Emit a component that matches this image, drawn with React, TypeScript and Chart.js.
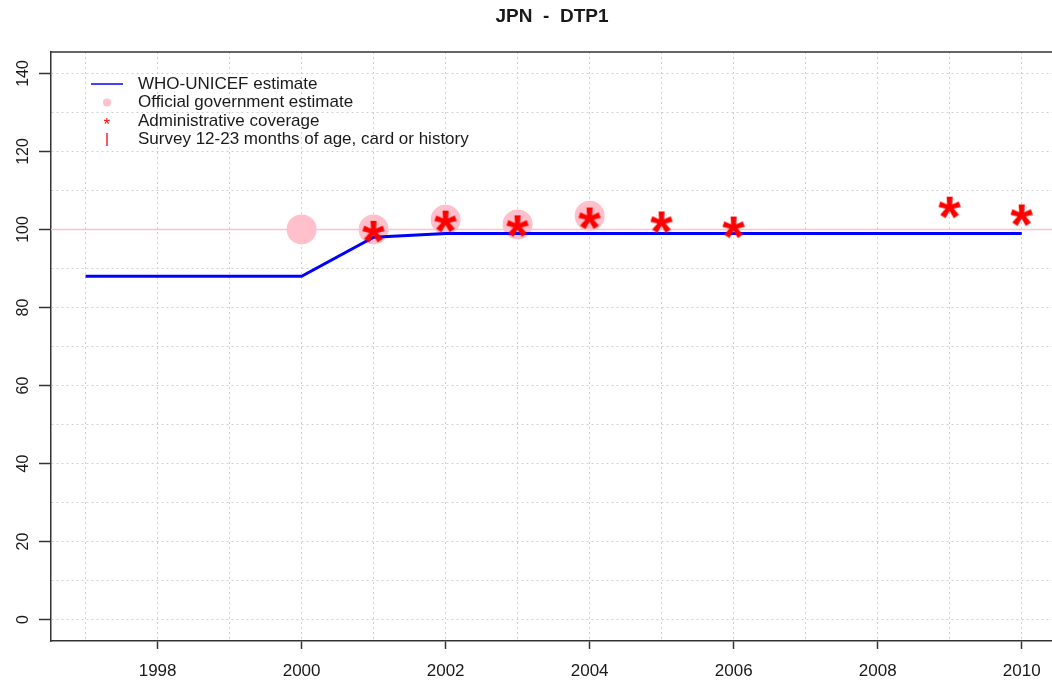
import React, { useEffect, useRef } from 'react';
import { Chart, registerables } from 'chart.js';

Chart.register(...registerables);

const TITLE = 'JPN  -  DTP1';

const gridYears = [1997, 1998, 1999, 2000, 2001, 2002, 2003, 2004, 2005, 2006, 2007, 2008, 2009, 2010];
const xLabelYears = [1998, 2000, 2002, 2004, 2006, 2008, 2010];
const yGridValues = [0, 10, 20, 30, 40, 50, 60, 70, 80, 90, 100, 110, 120, 130, 140];
const yLabelValues = [0, 20, 40, 60, 80, 100, 120, 140];

const whoYears = [1997, 1998, 1999, 2000, 2001, 2002, 2003, 2004, 2005, 2006, 2007, 2008, 2009, 2010];
const whoValues = [88, 88, 88, 88, 98, 99, 99, 99, 99, 99, 99, 99, 99, 99];

const officialYears = [2000, 2001, 2002, 2003, 2004];
const officialValues = [100, 100, 102.5, 101.3, 103.5];

const adminYears = [2001, 2002, 2003, 2004, 2005, 2006, 2009, 2010];
const adminValues = [99.4, 102, 100.8, 102.8, 101.8, 100.5, 105.6, 103.6];

const referenceValue = 100;

const legendLabels = [
  'WHO-UNICEF estimate',
  'Official government estimate',
  'Administrative coverage',
  'Survey 12-23 months of age, card or history',
];

const FONT = '"Liberation Sans", Arial, Helvetica, sans-serif';
const AXIS_COLOR = '#333333';
const TEXT_COLOR = '#1a1a1a';

function drawGlyphCentered(ctx: CanvasRenderingContext2D, ch: string, cx: number, cy: number, font: string, color: string) {
  ctx.save();
  ctx.font = font;
  ctx.fillStyle = color;
  ctx.textAlign = 'left';
  ctx.textBaseline = 'alphabetic';
  const m = ctx.measureText(ch);
  const gw = m.actualBoundingBoxLeft + m.actualBoundingBoxRight;
  const gh = m.actualBoundingBoxAscent + m.actualBoundingBoxDescent;
  const x = cx - gw / 2 + m.actualBoundingBoxLeft;
  const y = cy - gh / 2 + m.actualBoundingBoxAscent;
  ctx.fillText(ch, x, y);
  ctx.restore();
}

function makeAsterisk(): HTMLCanvasElement {
  const c = document.createElement('canvas');
  c.width = 32;
  c.height = 30;
  const ctx = c.getContext('2d')!;
  drawGlyphCentered(ctx, '*', 16, 15, `bold 58px ${FONT}`, '#FF0000');
  return c;
}

const decorPlugin = {
  id: 'decor',
  beforeDatasetsDraw(chart: any) {
    const { ctx, chartArea, scales } = chart;
    const y = scales.y.getPixelForValue(referenceValue);
    ctx.save();
    ctx.strokeStyle = '#FFC0CB';
    ctx.lineWidth = 1.5;
    ctx.beginPath();
    ctx.moveTo(chartArea.left, y);
    ctx.lineTo(chartArea.right, y);
    ctx.stroke();
    ctx.restore();
  },
  afterDraw(chart: any) {
    const { ctx, chartArea, scales } = chart;
    ctx.save();
    ctx.strokeStyle = AXIS_COLOR;
    ctx.lineWidth = 1.5;
    ctx.beginPath();
    ctx.moveTo(chartArea.left, chartArea.top);
    ctx.lineTo(chartArea.right, chartArea.top);
    ctx.stroke();

    ctx.fillStyle = TEXT_COLOR;
    ctx.font = `bold 19px ${FONT}`;
    ctx.textAlign = 'center';
    ctx.textBaseline = 'middle';
    ctx.fillText(TITLE, 552, 17);

    ctx.font = `16px ${FONT}`;
    for (const v of yLabelValues) {
      const py = scales.y.getPixelForValue(v);
      ctx.save();
      ctx.translate(24, py);
      ctx.rotate(-Math.PI / 2);
      ctx.textAlign = 'center';
      ctx.textBaseline = 'middle';
      ctx.fillText(String(v), 0, 0);
      ctx.restore();
    }

    const rows = [84, 102.5, 121, 139.5];
    const sx = 107;
    const tx = 138;
    ctx.strokeStyle = '#0000FF';
    ctx.lineWidth = 1.5;
    ctx.beginPath();
    ctx.moveTo(91, rows[0]);
    ctx.lineTo(123, rows[0]);
    ctx.stroke();

    ctx.fillStyle = '#FFC0CB';
    ctx.beginPath();
    ctx.arc(sx, rows[1], 4, 0, Math.PI * 2);
    ctx.fill();

    drawGlyphCentered(ctx, '*', sx, rows[2], `17px ${FONT}`, '#FF0000');

    ctx.strokeStyle = '#FF2030';
    ctx.lineWidth = 1.5;
    ctx.beginPath();
    ctx.moveTo(sx, rows[3] - 6.5);
    ctx.lineTo(sx, rows[3] + 6.5);
    ctx.stroke();

    ctx.fillStyle = TEXT_COLOR;
    ctx.font = `17px ${FONT}`;
    ctx.textAlign = 'left';
    ctx.textBaseline = 'middle';
    legendLabels.forEach((t, i) => ctx.fillText(t, tx, rows[i]));
    ctx.restore();
  },
};

export default function App() {
  const ref = useRef<HTMLCanvasElement | null>(null);

  useEffect(() => {
    if (!ref.current) return;
    const asterisk = makeAsterisk();
    const chart = new Chart(ref.current, {
      type: 'scatter',
      data: {
        datasets: [
          {
            type: 'line',
            label: legendLabels[0],
            data: whoYears.map((x, i) => ({ x, y: whoValues[i] })),
            borderColor: '#0000FF',
            borderWidth: 3,
            pointRadius: 0,
            fill: false,
            tension: 0,
            order: 1,
          } as any,
          {
            type: 'scatter',
            label: legendLabels[1],
            data: officialYears.map((x, i) => ({ x, y: officialValues[i] })),
            pointRadius: 15,
            pointBackgroundColor: '#FFC0CB',
            pointBorderWidth: 0,
            pointBorderColor: 'rgba(0,0,0,0)',
            order: 2,
          } as any,
          {
            type: 'scatter',
            label: legendLabels[2],
            data: adminYears.map((x, i) => ({ x, y: adminValues[i] })),
            pointStyle: asterisk,
            pointRadius: 15,
            order: 0,
          } as any,
        ],
      },
      options: {
        responsive: false,
        animation: false,
        events: [],
        layout: { autoPadding: false, padding: { top: 52, left: 0, right: 0, bottom: 0 } },
        plugins: {
          legend: { display: false },
          title: { display: false },
          tooltip: { enabled: false },
        },
        scales: {
          x: {
            type: 'linear',
            min: 1996.52,
            max: 2010.42,
            afterBuildTicks: (s: any) => {
              s.ticks = gridYears.map((v) => ({ value: v }));
            },
            afterFit: (s: any) => {
              s.height = 39;
              s.paddingLeft = 0;
              s.paddingRight = 0;
            },
            grid: {
              color: '#D0D0D0',
              lineWidth: 1,
              tickLength: 8,
              tickWidth: 1.5,
              tickBorderDash: [],
              tickColor: (c: any) => (c.tick && xLabelYears.includes(c.tick.value) ? AXIS_COLOR : 'rgba(0,0,0,0)'),
            },
            border: { display: true, color: AXIS_COLOR, width: 1.5, dash: [2, 3] },
            ticks: {
              autoSkip: false,
              maxRotation: 0,
              minRotation: 0,
              padding: 12,
              color: TEXT_COLOR,
              font: { family: FONT, size: 17 },
              callback: (v: any) => (xLabelYears.includes(Number(v)) ? String(v) : ''),
            },
          },
          y: {
            type: 'linear',
            min: -5.5,
            max: 145.5,
            afterBuildTicks: (s: any) => {
              s.ticks = yGridValues.map((v) => ({ value: v }));
            },
            afterFit: (s: any) => {
              s.width = 51;
              s.paddingTop = 0;
              s.paddingBottom = 0;
            },
            grid: {
              color: '#D0D0D0',
              lineWidth: 1,
              tickLength: 12,
              tickWidth: 1.5,
              tickBorderDash: [],
              tickColor: (c: any) => (c.tick && yLabelValues.includes(c.tick.value) ? AXIS_COLOR : 'rgba(0,0,0,0)'),
            },
            border: { display: true, color: AXIS_COLOR, width: 1.5, dash: [2, 3] },
            ticks: { display: false },
          },
        },
      } as any,
      plugins: [decorPlugin],
    });
    return () => chart.destroy();
  }, []);

  return (
    <div style={{ position: 'fixed', left: 0, top: 0, width: 1052, height: 680, background: '#fff' }}>
      <canvas ref={ref} width={1052} height={680} style={{ width: 1052, height: 680, display: 'block' }} />
    </div>
  );
}
